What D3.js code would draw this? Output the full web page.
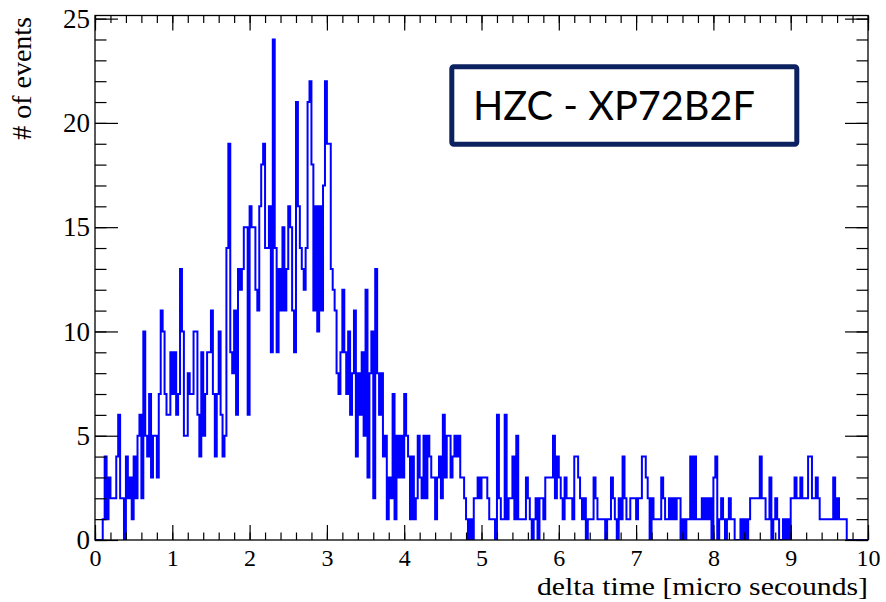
<!DOCTYPE html>
<html>
<head>
<meta charset="utf-8">
<script src="https://cdn.jsdelivr.net/npm/d3@7"></script>
<style>
  html, body { margin: 0; padding: 0; background: #ffffff; }
  svg { display: block; }
</style>
</head>
<body>
<svg id="chart" width="886" height="602"></svg>
<script>
// Histogram range (micro seconds); bins are equal-width across it
const binRange = [0, 10];

// Event counts per bin, 0.025 us wide, in four quarters of the range
const countsA = [ // 0.0 - 2.5
  0,0,0,0,1,4,1,3,2,2,
  2,4,6,2,2,0,4,2,3,1,
  4,2,5,6,2,10,5,4,7,3,
  5,5,3,7,11,10,7,6,6,9,
  7,9,6,7,13,10,5,5,8,7,
  7,10,10,6,4,9,5,7,9,9,
  11,7,4,7,10,6,4,5,14,19,
  9,8,11,6,13,12,13,15,15,6,
  16,15,15,12,11,16,18,19,14,14,
  16,9,24,14,9,13,11,15,11,13
];
const countsB = [ // 2.5 - 5.0
  16,15,11,9,21,16,14,13,12,14,
  21,22,18,11,16,10,16,11,17,22,
  19,19,13,12,11,8,7,9,12,9,
  7,10,6,8,11,4,8,6,9,5,
  12,3,8,10,2,13,8,6,8,4,
  5,1,3,2,7,1,5,3,5,3,
  7,5,4,1,4,1,2,5,3,2,
  5,2,5,4,3,3,1,3,4,2,
  6,3,5,5,3,4,5,4,5,3,
  3,2,1,0,1,0,2,2,3,2
];
const countsC = [ // 5.0 - 7.5
  3,3,3,2,1,1,1,0,6,2,
  1,1,6,1,2,2,4,1,5,1,
  1,1,1,3,2,1,0,1,2,0,
  2,2,1,3,3,3,3,5,2,4,
  3,2,1,3,2,2,2,1,4,4,
  3,2,1,2,0,1,1,1,3,2,
  1,1,1,1,0,1,1,3,2,1,
  0,2,1,4,2,1,1,2,2,2,
  1,2,2,4,4,3,2,0,2,1,
  1,1,1,3,2,1,1,2,1,2
];
const countsD = [ // 7.5 - 10.0
  1,2,2,0,1,0,1,1,4,1,
  4,1,1,1,2,1,2,1,2,0,
  3,4,0,1,2,1,0,1,2,1,
  1,0,0,0,1,0,1,0,1,2,
  2,2,2,2,4,2,2,1,1,3,
  0,1,2,1,0,0,1,0,1,0,
  2,2,3,2,2,3,2,2,2,4,
  4,2,2,3,2,1,1,1,1,1,
  1,1,3,1,2,1,1,1,1,0,
  0,0,0,0,0,0,0,0,0,0
];

const xMajorTicks = [0,1,2,3,4,5,6,7,8,9,10];
const yMajorTicks = [0,5,10,15,20,25];
const yMaxShown = 25.15;

const legendLabel = "HZC - XP72B2F";
const xTitle = "delta time [micro secounds]";
const yTitle = "# of events";

const counts = countsA.concat(countsB, countsC, countsD);
const binWidth = (binRange[1] - binRange[0]) / counts.length;

const svg = d3.select("#chart");
svg.append("rect").attr("width", 886).attr("height", 602).attr("fill", "#ffffff");

const frame = { left: 95, right: 868, top: 15.5, bottom: 540 };
const x = d3.scaleLinear().domain(binRange).range([frame.left, frame.right]);
const y = d3.scaleLinear().domain([0, yMaxShown]).range([frame.bottom, frame.top]);

const serif = "'Liberation Serif', 'Times New Roman', serif";

// Step outline of the histogram
const steps = [[binRange[0], 0]];
counts.forEach((c, i) => {
  const lo = binRange[0] + i * binWidth;
  steps.push([lo, c], [lo + binWidth, c]);
});
steps.push([binRange[1], 0]);

svg.append("clipPath").attr("id", "plotClip")
  .append("rect")
  .attr("x", frame.left).attr("y", frame.top)
  .attr("width", frame.right - frame.left).attr("height", frame.bottom - frame.top);

svg.append("path")
  .attr("clip-path", "url(#plotClip)")
  .attr("d", d3.line().x(d => x(d[0])).y(d => y(d[1]))(steps))
  .attr("fill", "none")
  .attr("stroke", "#0000ff")
  .attr("stroke-width", 2)
  .attr("stroke-linejoin", "miter");

// Axes: ticks point inward on all four sides
const xMinor = d3.range(0, 10.0001, 0.2).map(v => +v.toFixed(2));
const yMinor = d3.range(0, 25.0001, 1);

function styleAxis(g) {
  g.select(".domain").remove();
  g.selectAll("line").attr("stroke", "#000").attr("stroke-width", 1.2);
}

svg.append("g").attr("transform", `translate(0,${frame.bottom})`)
  .call(d3.axisBottom(x).tickValues(xMinor).tickSize(-7.5).tickFormat(""))
  .call(styleAxis);
const xAxis = svg.append("g").attr("transform", `translate(0,${frame.bottom})`)
  .call(d3.axisBottom(x).tickValues(xMajorTicks).tickSize(-15).tickPadding(9).tickFormat(d3.format("d")))
  .call(styleAxis);
xAxis.selectAll("text")
  .attr("font-family", serif).attr("font-size", 24).attr("fill", "#000");

svg.append("g").attr("transform", `translate(0,${frame.top})`)
  .call(d3.axisTop(x).tickValues(xMinor).tickSize(-7.5).tickFormat(""))
  .call(styleAxis);
svg.append("g").attr("transform", `translate(0,${frame.top})`)
  .call(d3.axisTop(x).tickValues(xMajorTicks).tickSize(-15).tickFormat(""))
  .call(styleAxis);

svg.append("g").attr("transform", `translate(${frame.left},0)`)
  .call(d3.axisLeft(y).tickValues(yMinor).tickSize(-11.5).tickFormat(""))
  .call(styleAxis);
const yAxis = svg.append("g").attr("transform", `translate(${frame.left},0)`)
  .call(d3.axisLeft(y).tickValues(yMajorTicks).tickSize(-23).tickPadding(5).tickFormat(d3.format("d")))
  .call(styleAxis);
yAxis.selectAll("text")
  .attr("font-family", serif).attr("font-size", 27).attr("fill", "#000");

svg.append("g").attr("transform", `translate(${frame.right},0)`)
  .call(d3.axisRight(y).tickValues(yMinor).tickSize(-11.5).tickFormat(""))
  .call(styleAxis);
svg.append("g").attr("transform", `translate(${frame.right},0)`)
  .call(d3.axisRight(y).tickValues(yMajorTicks).tickSize(-23).tickFormat(""))
  .call(styleAxis);

// Frame
svg.append("rect")
  .attr("x", frame.left).attr("y", frame.top)
  .attr("width", frame.right - frame.left).attr("height", frame.bottom - frame.top)
  .attr("fill", "none").attr("stroke", "#000").attr("stroke-width", 1.3);

// Axis titles
svg.append("text")
  .attr("x", frame.right).attr("y", 595)
  .attr("text-anchor", "end")
  .attr("font-family", serif).attr("font-size", 26)
  .attr("textLength", 331).attr("lengthAdjust", "spacingAndGlyphs")
  .attr("fill", "#000")
  .text(xTitle);

svg.append("text")
  .attr("transform", `translate(31,${frame.top + 1.5}) rotate(-90)`)
  .attr("text-anchor", "end")
  .attr("font-family", serif).attr("font-size", 28).attr("fill", "#000")
  .text(yTitle);

// Label box
svg.append("rect")
  .attr("x", 451.8).attr("y", 66.8).attr("width", 345).attr("height", 77.4)
  .attr("rx", 2)
  .attr("fill", "#ffffff").attr("stroke", "#0c2260").attr("stroke-width", 5);

svg.append("text")
  .attr("x", 473).attr("y", 120)
  .attr("font-family", "Lato, 'Open Sans', sans-serif").attr("font-size", 41)
  .attr("textLength", 282).attr("lengthAdjust", "spacingAndGlyphs")
  .attr("fill", "#000")
  .text(legendLabel);
</script>
</body>
</html>
